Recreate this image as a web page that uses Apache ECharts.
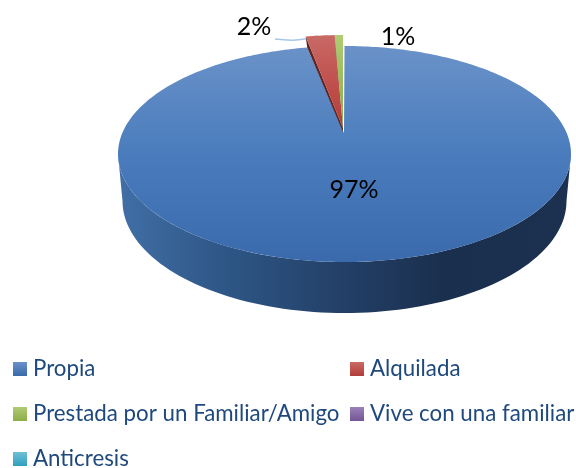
<!DOCTYPE html>
<html><head><meta charset="utf-8">
<style>html,body{margin:0;padding:0;background:#fff}#c{width:576px;height:468px}</style>
<script src="https://cdn.jsdelivr.net/npm/echarts@6/dist/echarts.min.js"></script>
</head><body><div id="c"></div>
<script>
// Data
const categories = ['Propia','Alquilada','Prestada por un Familiar/Amigo','Vive con una familiar','Anticresis'];
const shares = [96.8, 2.49, 0.71, 0, 0];
// Appearance
const topColors = [['#6a92c8','#4a7cbd','#3a6aab'],['#c96a66','#c0504d','#b23d3a'],['#b0cc74','#9bbb59','#8dad49'],['#9a82b8','#8064a2','#725595'],['#6fc0d6','#4bacc6','#2fa0bd']];
const legendCols = [13,350,13,350,13];
const legendTops = [358,358,403,403,448];
const labelAt = [[354,190],[254,27],[398,37]];
const T = {cx:344.5, cy:154, rx:226.5, ry:108, k:-0.194};
const B = {cx:344.5, cy:201, rx:222, ry:112};
const lift = {outer:11, apex:5};

function pct(v){return Math.round(v)+'%';}
function planePoint(deg){
  const t=deg*Math.PI/180,u=Math.sin(t),v=-Math.cos(t),d=1+T.k*v;
  return [T.cx+(u*Math.sqrt(1-T.k*T.k)/d)*T.rx, T.cy+((v+T.k)/d)*T.ry];
}
const apex=[T.cx-0.5,T.cy+T.k*T.ry];
function grad(c,y0,y1){return new echarts.graphic.LinearGradient(0,y0,0,y1,[{offset:0,color:c[0]},{offset:.5,color:c[1]},{offset:1,color:c[2]}],true);}
function arc(E,from,to,step){
  const out=[];
  for(let d=from;step>0?d<=to:d>=to;d+=step){const t=d*Math.PI/180;out.push([E.cx+E.rx*Math.cos(t),E.cy+E.ry*Math.sin(t)]);}
  return out;
}

function render(i){
  return function(params,api){
    const val=api.value(0);
    if(!val) return {type:'group',children:[]};
    let start=0; for(let j=0;j<i;j++) start+=shares[j];
    const a0=start*3.6,a1=(start+val)*3.6;
    const raised=i>0;
    const pts=[];
    const n=Math.max(2,Math.ceil(a1-a0));
    for(let s=0;s<=n;s++){pts.push(planePoint(a0+(a1-a0)*s/n));}
    const children=[];
    if(i===0){
      // extruded rim of the front half
      const rim=arc(T,180,0,-2).concat(arc(B,0,180,2));
      children.push({type:'polygon',shape:{points:rim},style:{fill:new echarts.graphic.LinearGradient(118,0,571,0,[
        {offset:0,color:'#416fa6'},{offset:.22,color:'#2f5888'},{offset:.5,color:'#233f66'},{offset:.72,color:'#1a2f4e'},{offset:1,color:'#1c3150'}],true)}});
    }
    if(i===1){
      children.push({type:'polyline',shape:{points:[[275,39],[296,40],[318,36]],smooth:.4},style:{stroke:'#a9c6ea',lineWidth:1.5,fill:null}});
    }
    let top=pts.concat([apex]);
    if(raised){
      const ap=[apex[0]-1,apex[1]-lift.apex];
      top=pts.map(p=>[p[0]-1.5,p[1]-lift.outer]).concat([ap]);
      const first=pts[0];
      children.push({type:'polygon',shape:{points:[ap,[first[0]-1.5,first[1]-lift.outer],[first[0],first[1]],[apex[0]-1,apex[1]-1]]},
        style:{fill:i===1?'#5e2523':'#46591f'}});
    }
    children.push({type:'polygon',shape:{points:top},style:{fill:grad(topColors[i],raised?35:46,raised?130:262)}});
    if(labelAt[i]){
      children.push({type:'text',z2:50,style:{text:pct(val),x:labelAt[i][0],y:labelAt[i][1],align:'center',verticalAlign:'middle',
        font:'25px Lato, Carlito, sans-serif',fill:'#000',shadowColor:'rgba(0,0,0,0.35)',shadowBlur:2,shadowOffsetX:1,shadowOffsetY:1}});
    }
    return {type:'group',children:children};
  };
}

const chart=echarts.init(document.getElementById('c'),null,{renderer:'canvas'});
chart.setOption({
  animation:false,
  backgroundColor:'#fff',
  legend:categories.map((name,i)=>({
    data:[{name:name,icon:'rect',itemStyle:{color:new echarts.graphic.LinearGradient(0,0,0,1,[{offset:0,color:topColors[i][0]},{offset:1,color:topColors[i][2]}])}}],
    left:legendCols[i],top:legendTops[i],itemWidth:14,itemHeight:14,padding:0,selectedMode:false,
    textStyle:{fontFamily:'Lato, Carlito, sans-serif',fontSize:22.3,color:'#1f497d',padding:[0,0,0,1]}
  })),
  series:categories.map((name,i)=>({
    type:'custom',name:name,coordinateSystem:'none',silent:true,
    itemStyle:{color:topColors[i][1]},
    data:[[shares[i]]],
    renderItem:render(i),z:2+i
  }))
});
</script></body></html>
